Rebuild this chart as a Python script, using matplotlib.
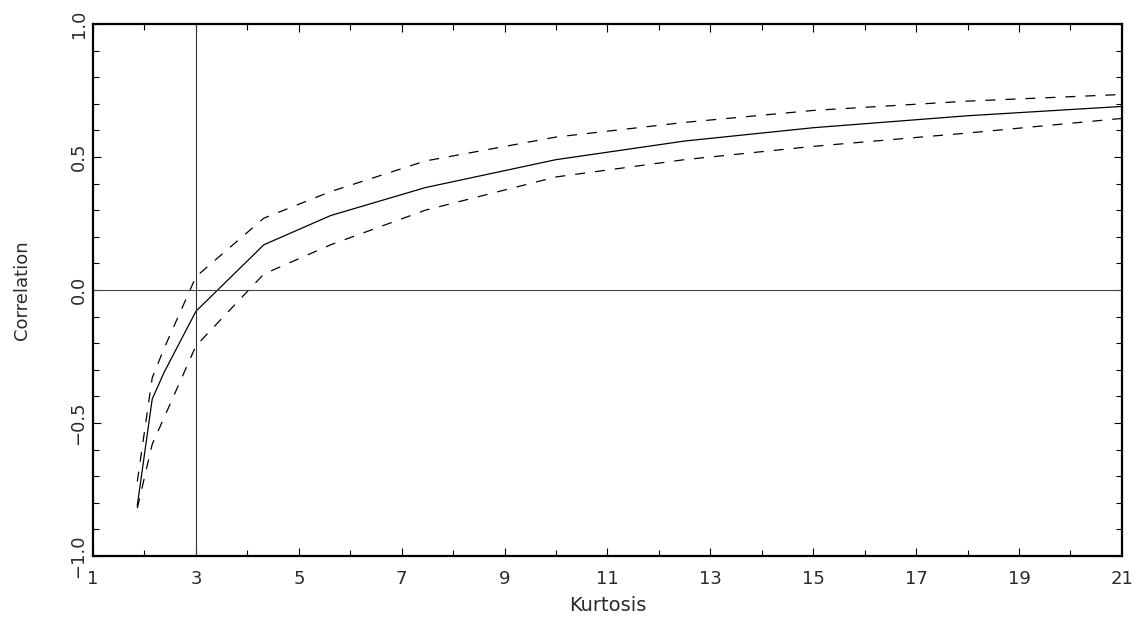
import matplotlib
matplotlib.use("Agg")
import matplotlib.pyplot as plt
from matplotlib.ticker import MultipleLocator, FixedLocator

# Data
kurtosis = [1.86, 2.15, 2.38, 3.0, 4.32, 5.62, 7.46, 10.0, 12.5, 15.0, 18.0, 21.0]
corr_mid = [-0.81, -0.41, -0.31, -0.08, 0.17, 0.28, 0.385, 0.49, 0.56, 0.61, 0.655, 0.69]
corr_upper = [-0.72, -0.33, -0.22, 0.05, 0.27, 0.37, 0.485, 0.575, 0.63, 0.675, 0.71, 0.735]
corr_lower = [-0.82, -0.58, -0.48, -0.21, 0.06, 0.17, 0.30, 0.425, 0.49, 0.54, 0.59, 0.645]

xticks = [1, 3, 5, 7, 9, 11, 13, 15, 17, 19, 21]
yticks = [-1.0, -0.5, 0.0, 0.5, 1.0]
ytick_labels = ["\u22121.0", "\u22120.5", "0.0", "0.5", "1.0"]

plt.rcParams['font.family'] = ['DejaVu Sans']
fig = plt.figure(figsize=(11.39, 6.26), dpi=100)
ax = fig.add_axes([0.0817, 0.1118, 0.9033, 0.8499])

tc = '#2a2a2a'
ax.plot(kurtosis, corr_mid, color='black', lw=0.9)
ax.plot(kurtosis, corr_upper, color='black', lw=0.9, dashes=(8, 8))
ax.plot(kurtosis, corr_lower, color='black', lw=0.9, dashes=(8, 8))
ax.axhline(0.0, color='#444444', lw=0.8)
ax.axvline(3.0, color='#333333', lw=0.8)

ax.set_xlim(1, 21)
ax.set_ylim(-1.0, 1.0)

ax.xaxis.set_major_locator(FixedLocator(xticks))
ax.xaxis.set_minor_locator(MultipleLocator(1))
ax.yaxis.set_major_locator(FixedLocator(yticks))
ax.yaxis.set_minor_locator(MultipleLocator(0.1))
ax.set_yticklabels(ytick_labels, rotation=90, va='center')

ax.tick_params(which='both', direction='in', top=True, right=True,
               labelsize=13, labelcolor=tc, width=0.8)
ax.tick_params(which='major', length=6)
ax.tick_params(which='minor', length=4)
ax.tick_params(axis='x', pad=10)
ax.tick_params(axis='y', pad=4)

for s in ax.spines.values():
    s.set_linewidth(1.6)
    s.set_color('black')

ax.set_xlabel('Kurtosis', fontsize=14, color=tc, labelpad=6)
fig.text(22 / 1139, 1 - 290 / 626, 'Correlation', rotation=90,
         ha='center', va='center', fontsize=13, color=tc)

fig.savefig('out.png', dpi=100)
